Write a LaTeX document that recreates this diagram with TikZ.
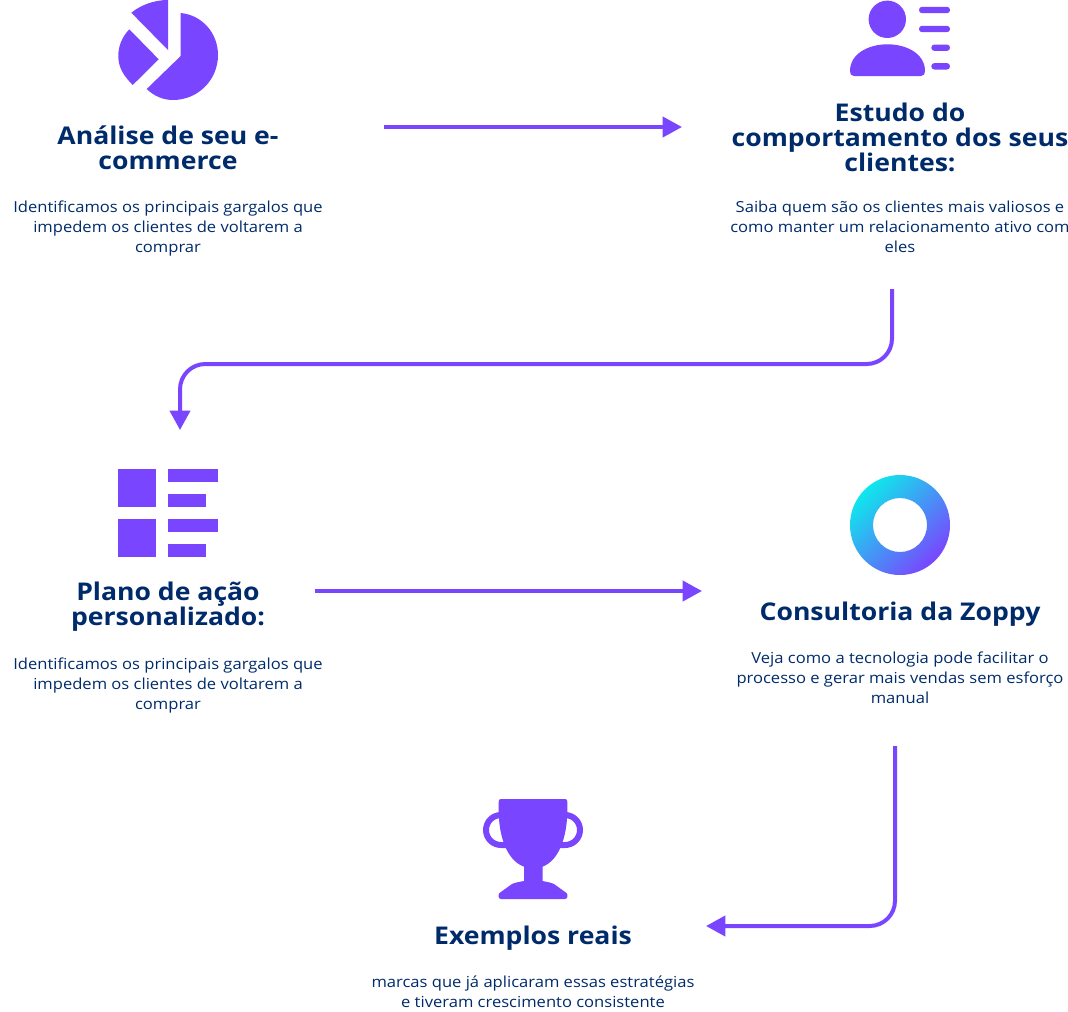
\documentclass[tikz,border=0pt]{standalone}
\usepackage{fontspec}
\setmainfont[FakeStretch=1.09]{Open Sans}
\usepackage{tikz}
\usetikzlibrary{arrows.meta, positioning}
\definecolor{zoppypurple}{RGB}{122,69,255}
\definecolor{zoppynavy}{RGB}{0,43,107}
\definecolor{zoppycyan}{RGB}{14,232,236}

\begin{document}
\begin{tikzpicture}[x=0.75pt, y=-0.75pt,
   heading/.style={text=zoppynavy, font=\fontsize{18.3}{18.75}\selectfont\bfseries, align=center, inner sep=0pt},
   blurb/.style={text=zoppynavy, font=\fontsize{11.4}{15}\selectfont, align=center, inner sep=0pt},
   flow/.style={-{Triangle[length=14.5pt, width=15pt]}, zoppypurple, line width=3pt, rounded corners=19pt},
   glyph/.style={fill=zoppypurple, draw=none},
   node distance=22pt]
 \useasboundingbox (0,0) rectangle (1068,1011);

 % pie chart
 \fill[glyph] (180.7,13) .. controls (202,15) and (218,33) .. (218,55) .. controls (218,80) and (198,100) .. (173,100)
   .. controls (163,100) and (154,96) .. (146.7,89) -- (180.7,56) -- cycle;
 \fill[glyph] (131.3,12.7) .. controls (141,5) and (154,0) .. (168,0) -- (168,50) -- cycle;
 \fill[glyph] (129.3,29.3) -- (158.7,59.3) -- (132.7,85) .. controls (124,76) and (118.3,68) .. (118.3,56)
   .. controls (118.3,46) and (122,37) .. (129.3,29.3) -- cycle;

 % person with list
 \fill[glyph] (887.3,19.3) circle (18.7);
 \fill[glyph] (854,76) .. controls (851,76) and (850,74) .. (850,71) .. controls (850,54) and (868,44.3) .. (887.5,44.3)
   .. controls (907,44.3) and (925,54) .. (925,71) .. controls (925,74) and (924,76) .. (921,76) -- cycle;
 \fill[glyph, rounded corners=2.3pt] (919,6.8) rectangle (950,13.2);
 \fill[glyph, rounded corners=2.3pt] (919,25.8) rectangle (950,32.2);
 \fill[glyph, rounded corners=2.3pt] (931.3,44.5) rectangle (950,50.9);
 \fill[glyph, rounded corners=2.3pt] (931.3,63.1) rectangle (950,69.5);

 % plan blocks
 \fill[glyph] (118,469) rectangle (155.5,506.5);
 \fill[glyph] (118,519) rectangle (155.5,556.5);
 \fill[glyph] (168,469) rectangle (218,481.5);
 \fill[glyph] (168,494) rectangle (205.5,506.5);
 \fill[glyph] (168,519) rectangle (218,531.5);
 \fill[glyph] (168,544) rectangle (205.5,556.5);

 % ring
 \shade[even odd rule, left color=zoppycyan, right color=zoppypurple, shading angle=45]
   (900,525) circle (50) (900,525) circle (27);

 % trophy
 \draw[zoppypurple, line width=4.5pt] (503,815) -- (501,815) arc[start angle=-90, end angle=-270, radius=15] -- (506,845);
 \draw[zoppypurple, line width=4.5pt] (563,815) -- (565,815) arc[start angle=-90, end angle=90, radius=15] -- (560,845);
 \fill[glyph] (501,799) -- (565,799) .. controls (567,799) and (567.3,800) .. (567.3,802) -- (567.3,812)
   .. controls (567,835) and (560,860) .. (542.5,866.7) -- (542.5,881) .. controls (548,882) and (552,883) .. (554,884)
   -- (566.5,893) .. controls (568.5,895) and (567.5,899) .. (565,899) -- (501,899) .. controls (498.5,899) and (497.5,895) .. (499.5,893)
   -- (512,884) .. controls (514,883) and (518,882) .. (524,881) -- (524,866.7)
   .. controls (506,860) and (499,835) .. (498.7,812) -- (498.7,802) .. controls (498.7,800) and (499,799) .. (501,799) -- cycle;

 % text blocks
 \node[heading] (analise) at (168,148) {Análise de seu e-\\commerce};
 \node[blurb, below=22.8pt of analise] (analisetxt) {Identificamos os principais gargalos que\\impedem os clientes de voltarem a\\comprar};
 \node[heading] (estudo) at (900,137) {Estudo do\\comportamento dos seus\\clientes:};
 \node[blurb, below=of estudo] (estudotxt) {Saiba quem são os clientes mais valiosos e\\como manter um relacionamento ativo com\\eles};
 \node[heading] (plano) at (168,607) {Plano de ação\\personalizado:};
 \node[blurb, below=19pt of plano] (planotxt) {Identificamos os principais gargalos que\\impedem os clientes de voltarem a\\comprar};
 \node[heading] (consultoria) at (900,614) {Consultoria da Zoppy};
 \node[blurb, below=19pt of consultoria] (consultoriatxt) {Veja como a tecnologia pode facilitar o\\processo e gerar mais vendas sem esforço\\manual};
 \node[heading] (exemplos) at (533,938) {Exemplos reais};
 \node[blurb, below=19pt of exemplos] (exemplostxt) {marcas que já aplicaram essas estratégias\\e tiveram crescimento consistente};

 % connector ends
 \coordinate (analiseout) at (384,127);
 \coordinate (estudoin) at (682,127);
 \coordinate (estudoout) at (892,289);
 \coordinate (planoin) at (180,430);
 \coordinate (planoout) at (315,591);
 \coordinate (consultoriain) at (702,591);
 \coordinate (consultoriaout) at (895,746);
 \coordinate (exemplosin) at (706,926);

 \draw[flow] (analiseout) -- (estudoin);
 \draw[flow] (estudoout) |- (535,364) -| (planoin);
 \draw[flow] (planoout) -- (consultoriain);
 \draw[flow] (consultoriaout) |- (exemplosin);
\end{tikzpicture}
\end{document}
